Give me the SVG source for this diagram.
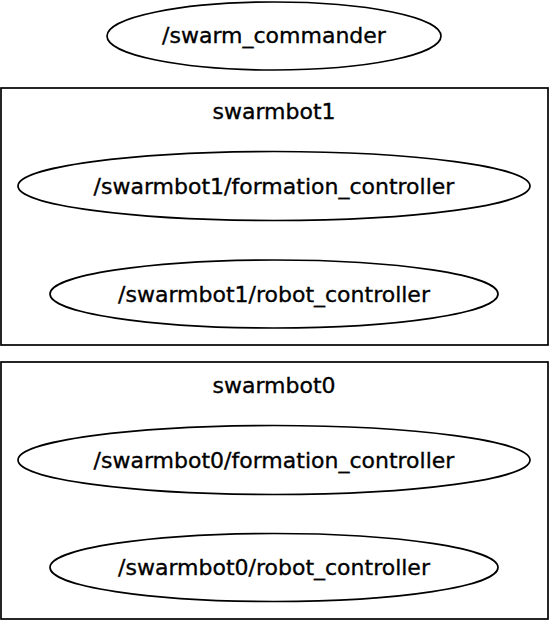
<svg xmlns="http://www.w3.org/2000/svg" width="549" height="621" viewBox="0 0 549 621">
<style>
.n{fill:#fff;stroke:#000;stroke-width:1.7}
.c{fill:none;stroke:#000;stroke-width:1.7}
text{font-family:"DejaVu Sans",sans-serif;font-size:22px;text-anchor:middle;fill:#000;stroke:#000;stroke-width:0.35}
</style>
<rect width="549" height="621" fill="#fff"/>
<g id="cluster_swarmbot1">
<rect class="c" x="1" y="88" width="547" height="257"/>
<text x="274" y="119.3">swarmbot1</text>
</g>
<g id="cluster_swarmbot0">
<rect class="c" x="1" y="362" width="547" height="257"/>
<text x="274" y="393.3">swarmbot0</text>
</g>
<g id="swarm_commander">
<ellipse class="n" cx="274" cy="36" rx="167" ry="34"/>
<text x="274" y="43.3">/swarm_commander</text>
</g>
<g id="swarmbot1_formation_controller">
<ellipse class="n" cx="274" cy="186" rx="256" ry="34.5"/>
<text x="274" y="193.7">/swarmbot1/formation_controller</text>
</g>
<g id="swarmbot1_robot_controller">
<ellipse class="n" cx="274" cy="294" rx="224" ry="34"/>
<text x="274" y="301.5">/swarmbot1/robot_controller</text>
</g>
<g id="swarmbot0_formation_controller">
<ellipse class="n" cx="274" cy="460" rx="256" ry="34.5"/>
<text x="274" y="467.5">/swarmbot0/formation_controller</text>
</g>
<g id="swarmbot0_robot_controller">
<ellipse class="n" cx="274" cy="567.5" rx="224" ry="34"/>
<text x="274" y="575">/swarmbot0/robot_controller</text>
</g>
<g id="connectors"></g>
</svg>
